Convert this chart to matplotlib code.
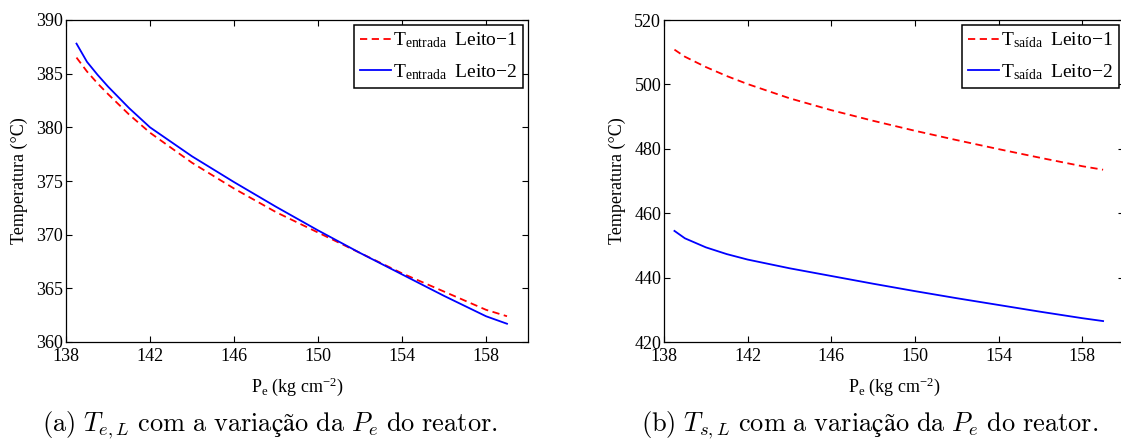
import matplotlib
matplotlib.use("Agg")
import matplotlib.pyplot as plt

plt.rcParams['font.family'] = ['Liberation Serif', 'DejaVu Serif']
plt.rcParams['mathtext.fontset'] = 'custom'
plt.rcParams['mathtext.rm'] = 'Liberation Serif'
plt.rcParams['mathtext.it'] = 'Liberation Serif:italic'
plt.rcParams['mathtext.bf'] = 'Liberation Serif:bold'

# (a) inlet temperature of each bed vs. reactor inlet pressure
pe_a = [138.5, 139, 139.5, 140, 141, 142, 144, 146, 148, 150, 152, 154, 156, 158, 159]
t_entrada_1 = [386.5, 385.2, 384.1, 383.1, 381.2, 379.5, 376.7, 374.3, 372.1, 370.2,
               368.3, 366.4, 364.7, 363.0, 362.4]
t_entrada_2 = [387.8, 386.1, 384.9, 383.8, 381.8, 380.0, 377.3, 374.9, 372.6, 370.4,
               368.3, 366.3, 364.3, 362.4, 361.7]

# (b) outlet temperature of each bed
pe_b = [138.5, 139, 140, 141, 142, 144, 146, 148, 150, 152, 154, 156, 158, 159]
t_saida_1 = [510.8, 508.6, 505.4, 502.6, 500.1, 495.7, 492.0, 488.7, 485.6, 482.7,
             479.9, 477.2, 474.6, 473.5]
t_saida_2 = [454.5, 452.2, 449.4, 447.3, 445.6, 442.9, 440.5, 438.1, 435.8, 433.6,
             431.5, 429.4, 427.4, 426.5]

xticks = [138, 142, 146, 150, 154, 158]
W, H = 1121, 445

fig = plt.figure(figsize=(W / 100, H / 100), dpi=100)
ax1 = fig.add_axes([66 / W, (H - 342) / H, 462 / W, 322 / H])
ax2 = fig.add_axes([664 / W, (H - 342) / H, 460 / W, 322 / H])


def setup(ax, x, y1, y2, sub, ylim, yticks):
    ax.plot(x, y1, '--', color=(1, 0, 0), lw=1.3, dashes=(4, 2.5),
            label='T$_{\\mathrm{%s}}$\u2009 Leito\u22121' % sub)
    ax.plot(x, y2, '-', color=(0, 0, 1), lw=1.3,
            label='T$_{\\mathrm{%s}}$\u2009 Leito\u22122' % sub)
    ax.set_xlim(138, 160)
    ax.set_ylim(*ylim)
    ax.set_xticks(xticks)
    ax.set_yticks(yticks)
    ax.tick_params(direction='in', length=4.5, width=0.8, top=True, right=True,
                   labelsize=13, pad=2)
    ax.tick_params(axis='x', pad=4)
    for s in ax.spines.values():
        s.set_linewidth(0.9)
    ax.set_xlabel('P$_{\\mathrm{e}}$ (kg cm$^{\\mathrm{\u22122}}$)', fontsize=13, labelpad=8)
    ax.set_ylabel('Temperatura (\u00b0C)', fontsize=13, labelpad=6)
    leg = ax.legend(loc='upper right', fontsize=14, fancybox=False, framealpha=1,
                    edgecolor='black', borderaxespad=0.25, handlelength=1.6,
                    handletextpad=0.1, labelspacing=0.6, borderpad=0.3)
    leg.get_frame().set_linewidth(1.1)


setup(ax1, pe_a, t_entrada_1, t_entrada_2, 'entrada', (360, 390), range(360, 391, 5))
setup(ax2, pe_b, t_saida_1, t_saida_2, 'sa\u00edda', (420, 520), range(420, 521, 20))

cap_kw = dict(fontsize=19, math_fontfamily='cm', ha='center', va='baseline')
fig.text(270 / W, (H - 431) / H,
         '$\\mathrm{(a)}\\ T_{e,L}\\ \\mathrm{com\\ a\\ varia\u00e7\u00e3o\\ da}\\ '
         'P_e\\ \\mathrm{do\\ reator.}$', **cap_kw)
fig.text(870 / W, (H - 431) / H,
         '$\\mathrm{(b)}\\ T_{s,L}\\ \\mathrm{com\\ a\\ varia\u00e7\u00e3o\\ da}\\ '
         'P_e\\ \\mathrm{do\\ reator.}$', **cap_kw)

fig.savefig('out.png', dpi=100)
